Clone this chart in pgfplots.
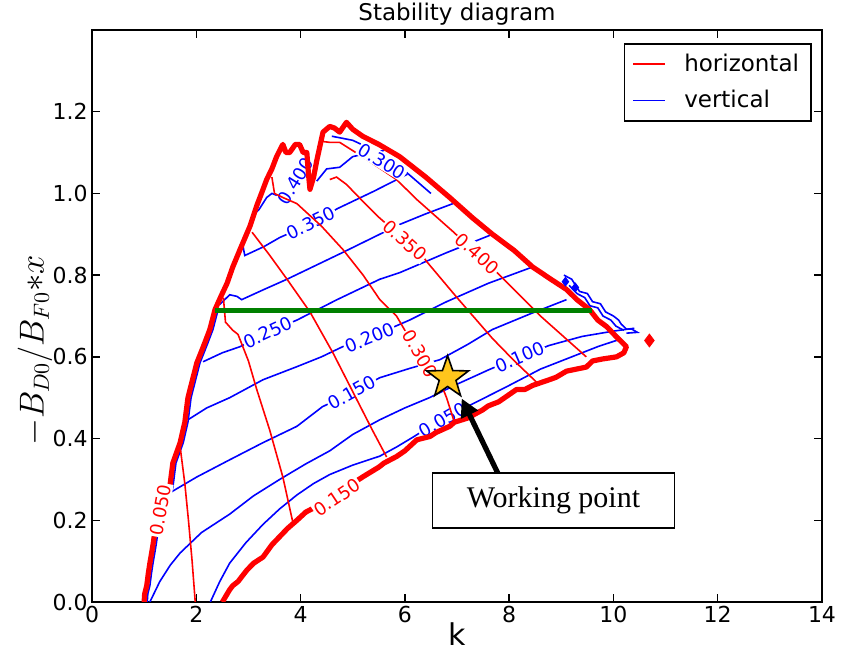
\documentclass[border=0pt]{standalone}
\usepackage{fontspec}
\setmainfont{DejaVu Sans}
\newfontfamily\timesfont{Liberation Serif}
\usepackage{pgfplots}
\pgfplotsset{compat=1.18}
\usetikzlibrary{arrows.meta,shapes.geometric}
\definecolor{hred}{RGB}{255,0,0}
\definecolor{vblue}{RGB}{0,0,255}
\definecolor{wgreen}{RGB}{0,128,0}
\definecolor{stargold}{RGB}{255,198,28}

\tikzset{
  blab/.style={sloped, pos=0.5, font=\fontsize{9}{10}\selectfont, text=vblue, fill=white, inner sep=0.6pt},
  rlab/.style={sloped, pos=0.5, font=\fontsize{9}{10}\selectfont, text=hred, fill=white, inner sep=0.6pt},
}

\begin{document}
\begin{tikzpicture}
\begin{axis}[
  scale only axis, width=365pt, height=286pt,
  xmin=0, xmax=14, ymin=0, ymax=1.4,
  xtick={0,2,4,6,8,10,12,14},
  ytick={0,0.2,0.4,0.6,0.8,1.0,1.2},
  yticklabel style={/pgf/number format/fixed, /pgf/number format/fixed zerofill, /pgf/number format/precision=1},
  /pgf/number format/assume math mode=true,
  ticklabel style={font=\fontsize{11}{13}\selectfont, inner sep=2pt},
  tick align=inside, major tick length=4pt,
  tick style={black, line width=0.75pt},
  axis line style={black, line width=0.8pt},
  title={Stability diagram},
  title style={font=\fontsize{11.5}{13}\selectfont, inner sep=1pt, yshift=-5pt},
  xlabel={k},
  xlabel style={font=\fontsize{15}{17}\selectfont, at={(axis description cs:0.5,0)}, anchor=center, yshift=-16pt},
  ylabel={$-B_{D0}/B_{F0}{*}x$},
  ylabel style={font=\fontsize{16}{19}\selectfont, at={(axis description cs:-0.078,0.44)}, anchor=center},
  legend style={at={(rel axis cs:0.986,0.977)}, anchor=north east, draw=black, line width=0.8pt,
    font=\fontsize{11.5}{13}\selectfont, inner xsep=4pt, inner ysep=3pt, row sep=4pt, cells={anchor=west},
    /tikz/every odd column/.append style={column sep=7pt}},
  legend image code/.code={\draw[#1, line width=0.8pt] (0pt,0pt) -- (16pt,0pt);},
]
\addlegendimage{draw=hred}
\addlegendentry{horizontal}
\addlegendimage{draw=vblue}
\addlegendentry{vertical}

% ---- blue (vertical) contours
\addplot[vblue, line width=0.8pt, forget plot] coordinates {
  (2.27,0)(2.45,0.05)(2.64,0.095)(2.95,0.145)(3.28,0.19)(3.6,0.228)(3.93,0.262)(4.25,0.29)
  (4.56,0.312)(5.0,0.335)(5.52,0.357)(5.85,0.38)(6.15,0.403)(6.7,0.447)(7.38,0.49)(8.0,0.53)
  (8.6,0.57)(9.2,0.60)(9.7,0.625)(10.1,0.642)};
\addplot[draw=none, forget plot] coordinates {(6.35,0.418)(7.1,0.473)} node[blab] {0.050};

\addplot[vblue, line width=0.8pt, forget plot] coordinates {
  (1.11,0)(1.3,0.05)(1.5,0.09)(1.69,0.12)(2.1,0.17)(2.64,0.215)(3.1,0.26)(3.6,0.30)(4.1,0.338)
  (4.56,0.37)(5.0,0.41)(5.52,0.446)(6.0,0.475)(6.47,0.5)(7.0,0.533)(7.62,0.569)(8.2,0.60)
  (8.77,0.628)(9.4,0.65)(10.0,0.663)(10.4,0.67)};
\addplot[draw=none, forget plot] coordinates {(7.8,0.578)(8.6,0.622)} node[blab] {0.100};

\addplot[vblue, line width=0.8pt, forget plot] coordinates {
  (1.49,0.267)(2.01,0.306)(2.64,0.348)(3.28,0.39)(3.93,0.43)(4.42,0.478)(4.98,0.512)(5.52,0.549)
  (6.1,0.572)(6.67,0.593)(7.2,0.63)(7.68,0.667)(8.4,0.705)(9.1,0.74)};
\addplot[draw=none, forget plot] coordinates {(4.6,0.485)(5.38,0.54)} node[blab] {0.150};

\addplot[vblue, line width=0.8pt, forget plot] coordinates {
  (1.84,0.446)(2.2,0.475)(2.64,0.50)(3.28,0.544)(3.93,0.576)(4.4,0.60)(4.81,0.625)(5.46,0.655)
  (6.09,0.69)(6.8,0.735)(7.6,0.78)(8.45,0.82)};
\addplot[draw=none, forget plot] coordinates {(4.92,0.626)(5.72,0.668)} node[blab] {0.200};

\addplot[vblue, line width=0.8pt, forget plot] coordinates {
  (2.13,0.588)(2.5,0.61)(2.84,0.625)(3.37,0.66)(3.93,0.69)(4.7,0.74)(5.52,0.79)(5.9,0.806)
  (6.8,0.855)(7.68,0.90)};
\addplot[draw=none, forget plot] coordinates {(2.95,0.635)(3.8,0.685)} node[blab] {0.250};

\addplot[vblue, line width=0.8pt, forget plot] coordinates {
  (2.45,0.728)(2.64,0.752)(2.78,0.748)(2.87,0.74)(3.3,0.765)(3.74,0.79)(4.8,0.855)(5.9,0.924)
  (6.4,0.95)(6.92,0.975)};

\addplot[vblue, line width=0.8pt, forget plot] coordinates {
  (2.89,0.875)(2.93,0.848)(3.3,0.87)(3.6,0.892)(4.2,0.926)(4.71,0.963)(5.4,1.005)(6.05,1.047)};
\addplot[draw=none, forget plot] coordinates {(3.75,0.9)(4.65,0.955)} node[blab] {0.350};

\addplot[vblue, line width=0.8pt, forget plot] coordinates {
  (3.12,0.95)(3.2,0.96)(3.35,0.99)(3.45,1.0)(3.55,0.995)(3.7,0.99)(3.85,1.0)(4.0,1.03)(4.12,1.06)};
\addplot[draw=none, forget plot] coordinates {(3.68,0.985)(4.12,1.075)} node[blab] {0.400};

\addplot[vblue, line width=0.8pt, forget plot] coordinates {
  (4.31,1.03)(4.5,1.06)(4.75,1.064)(5.0,1.09)(5.33,1.10)(5.6,1.105)};
\addplot[vblue, line width=0.8pt, forget plot] coordinates {
  (4.6,1.14)(5.0,1.13)(5.5,1.10)(6.0,1.055)(6.5,1.0)};

% blue stability boundary
\addplot[vblue, line width=0.8pt, forget plot] coordinates {
  (1.06,0)(1.07,0.02)(1.11,0.04)(1.14,0.07)(1.17,0.095)(1.23,0.14)(1.27,0.176)(1.36,0.21)
  (1.42,0.24)(1.55,0.28)(1.58,0.31)(1.61,0.34)(1.75,0.39)(1.84,0.44)(1.9,0.5)(1.96,0.53)
  (2.07,0.585)(2.21,0.63)(2.32,0.667)(2.42,0.716)};
\addplot[vblue, line width=0.8pt, forget plot] coordinates {
  (9.05,0.80)(9.2,0.79)(9.35,0.76)(9.5,0.755)(9.6,0.735)(9.75,0.73)(9.85,0.71)(10.0,0.70)
  (10.1,0.69)(10.15,0.68)(10.25,0.668)(10.35,0.668)(10.46,0.66)(10.25,0.658)};
\addplot[vblue, line width=0.8pt, forget plot] coordinates {
  (9.15,0.775)(9.3,0.755)(9.45,0.745)(9.55,0.725)(9.7,0.72)(9.8,0.70)(9.95,0.69)(10.05,0.675)
  (10.2,0.665)};
\addplot[only marks, mark=diamond*, mark size=2.2pt, color=vblue, forget plot] coordinates {
  (9.08,0.784)(9.27,0.77)};

% ---- red (horizontal) contours
\addplot[hred, line width=0.8pt, forget plot] coordinates {
  (1.98,0)(1.92,0.1)(1.85,0.2)(1.78,0.29)(1.69,0.38)};
\addplot[hred, line width=0.8pt, forget plot] coordinates {
  (2.52,0.745)(2.56,0.685)(2.7,0.665)(2.8,0.655)(3.0,0.59)(3.16,0.52)(3.41,0.42)(3.66,0.306)(3.85,0.196)};
\addplot[hred, line width=0.8pt, forget plot] coordinates {
  (3.07,0.905)(3.4,0.85)(3.74,0.79)(4.18,0.71)(4.62,0.61)(5.0,0.515)(5.38,0.42)(5.65,0.355)};
\addplot[hred, line width=0.8pt, forget plot] coordinates {
  (3.45,1.04)(3.5,1.0)(3.66,0.99)(3.93,0.975)(4.4,0.92)(4.81,0.863)(5.2,0.8)(5.52,0.74)
  (5.84,0.70)(6.0,0.665)(6.28,0.63)(6.55,0.58)(6.8,0.5)(6.95,0.44)};
\addplot[draw=none, forget plot] coordinates {(6.02,0.668)(6.56,0.548)} node[rlab] {0.300};
\addplot[hred, line width=0.8pt, forget plot] coordinates {
  (4.56,1.034)(4.69,1.04)(4.88,1.022)(5.2,0.98)(5.48,0.944)(5.65,0.925)(6.35,0.845)(6.42,0.833)
  (7.0,0.745)(7.68,0.645)(8.1,0.59)(8.55,0.535)};
\addplot[draw=none, forget plot] coordinates {(5.65,0.925)(6.35,0.845)} node[rlab] {0.350};
\addplot[hred, line width=0.8pt, forget plot] coordinates {
  (4.43,1.127)(4.56,1.125)(4.75,1.125)(5.27,1.083)(5.84,1.034)(6.23,0.985)(6.92,0.907)(7.82,0.80)
  (8.6,0.70)(9.48,0.60)};
\addplot[draw=none, forget plot] coordinates {(6.98,0.9)(7.8,0.805)} node[rlab] {0.400};

% red stability boundary
\addplot[hred, line width=2.6pt, line join=round, forget plot] coordinates {
  (1.0,0)(1.01,0.02)(1.05,0.04)(1.08,0.07)(1.11,0.095)(1.17,0.14)(1.21,0.176)(1.3,0.21)
  (1.36,0.24)(1.49,0.28)(1.52,0.31)(1.55,0.34)(1.69,0.39)(1.78,0.44)(1.84,0.50)(1.9,0.53)
  (2.01,0.585)(2.15,0.63)(2.26,0.667)(2.36,0.716)(2.48,0.75)(2.59,0.78)(2.7,0.82)(2.84,0.863)
  (3.03,0.92)(3.16,0.97)(3.25,1.0)(3.35,1.034)(3.45,1.06)(3.54,1.09)(3.66,1.12)(3.72,1.10)
  (3.79,1.10)(3.9,1.12)(3.98,1.12)(4.05,1.10)(4.12,1.10)(4.15,1.05)(4.18,1.01)(4.25,1.04)
  (4.31,1.08)(4.43,1.15)(4.56,1.164)(4.65,1.16)(4.75,1.15)(4.88,1.174)(5.0,1.157)(5.19,1.14)
  (5.5,1.12)(5.9,1.09)(6.4,1.04)(6.86,0.99)(7.3,0.94)(7.68,0.90)(8.1,0.86)(8.45,0.82)
  (8.8,0.79)(9.1,0.765)(9.3,0.74)(9.54,0.716)(9.7,0.69)(9.87,0.674)(10.05,0.65)(10.25,0.625)
  (10.2,0.61)(10.06,0.60)(9.8,0.595)(9.6,0.59)(9.48,0.575)(9.1,0.565)(8.9,0.55)(8.77,0.544)
  (8.45,0.53)(8.3,0.52)(8.14,0.52)(7.8,0.49)(7.6,0.48)(7.49,0.47)(7.2,0.45)(6.95,0.44)
  (6.86,0.43)(6.6,0.415)(6.48,0.405)(6.23,0.397)(6.0,0.37)(5.84,0.356)(5.6,0.34)(5.5,0.33)
  (5.19,0.306)(5.0,0.29)(4.9,0.28)(4.7,0.27)(4.56,0.258)(4.25,0.23)(4.1,0.22)(3.93,0.20)
  (3.75,0.18)(3.6,0.16)(3.45,0.14)(3.28,0.11)(3.1,0.095)(2.97,0.078)(2.8,0.05)(2.7,0.04)
  (2.64,0.03)(2.5,0.0)};
\addplot[only marks, mark=diamond*, mark size=3.2pt, color=hred, forget plot] coordinates {(10.69,0.64)};
\addplot[draw=none, forget plot] coordinates {(1.24,0.17)(1.4,0.28)} node[rlab] {0.050};
\addplot[draw=none, forget plot] coordinates {(4.3,0.222)(5.1,0.29)} node[rlab] {0.150};
\addplot[draw=none, forget plot] coordinates {(5.15,1.112)(5.98,1.047)} node[blab] {0.300};

% working line and point
\addplot[wgreen, line width=2.6pt, forget plot] coordinates {(2.36,0.713)(9.58,0.713)};
\addplot[only marks, mark=none, forget plot,
  nodes near coords={},
  every node near coord/.style={shape=star, star points=5, star point ratio=2.5,
    minimum size=22pt, inner sep=0pt, fill=stargold, draw=black, line width=0.8pt, anchor=center}]
  coordinates {(6.82,0.549)};

\draw[black, line width=2.6pt, -{Triangle[length=9pt,width=9pt]}] (axis cs:7.78,0.316) -- (axis cs:7.09,0.498);
\node[draw=black, fill=white, line width=0.8pt, minimum width=121pt, minimum height=27.5pt,
  font=\timesfont\fontsize{15}{18}\selectfont] at (axis cs:8.85,0.249) {Working point};
\end{axis}
\path (current axis.south west) ++(-46pt,-26pt) rectangle ([shift={(10pt,15pt)}]current axis.north east);
\end{tikzpicture}
\end{document}
